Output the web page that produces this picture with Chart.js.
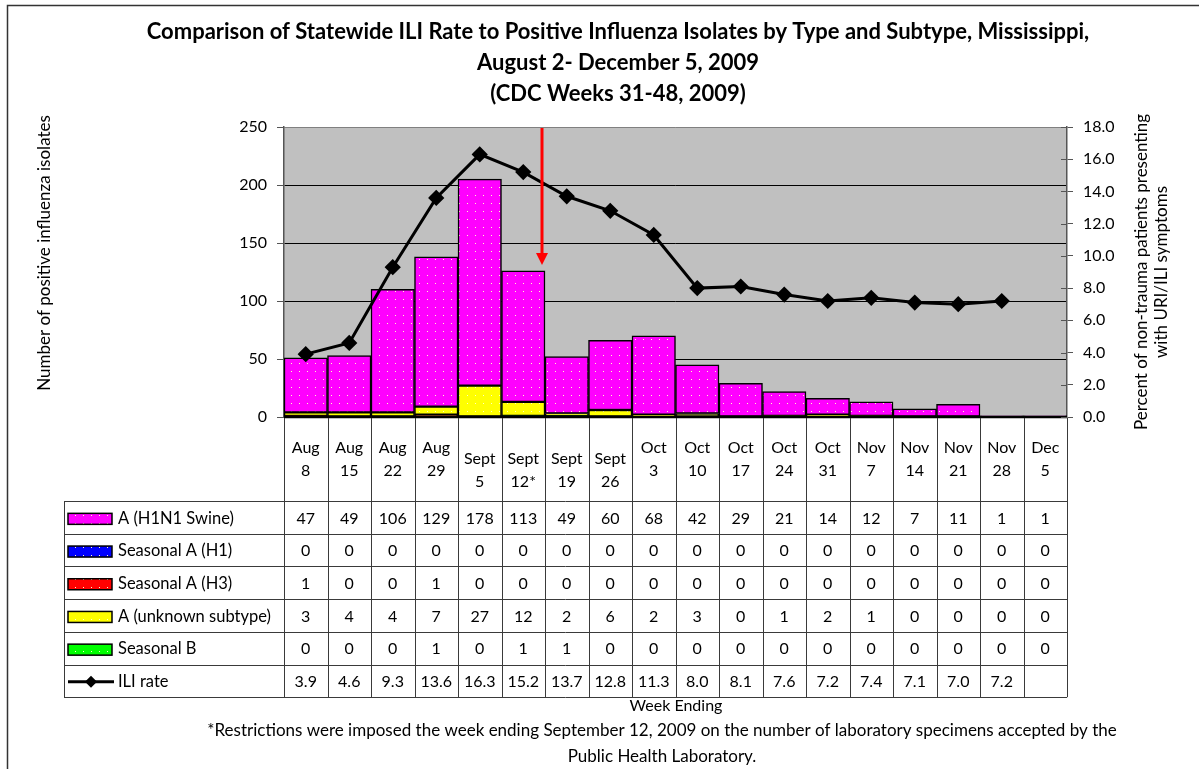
<!DOCTYPE html>
<html>
<head>
<meta charset="utf-8">
<script src="https://cdn.jsdelivr.net/npm/chart.js@4.4.1/dist/chart.umd.min.js"></script>
<style>
  html, body { margin: 0; padding: 0; background: #fff; }
  #wrap { position: relative; width: 1199px; height: 769px; }
</style>
</head>
<body>
<div id="wrap"><canvas id="chart" width="1199" height="769"></canvas></div>
<script>
// week ending labels (Sept ones sit one line lower in the original table)
const weekLabels = [
  ["Aug", "8"], ["Aug", "15"], ["Aug", "22"], ["Aug", "29"],
  ["", "Sept", "5"], ["", "Sept", "12*"], ["", "Sept", "19"], ["", "Sept", "26"],
  ["Oct", "3"], ["Oct", "10"], ["Oct", "17"], ["Oct", "24"], ["Oct", "31"],
  ["Nov", "7"], ["Nov", "14"], ["Nov", "21"], ["Nov", "28"], ["Dec", "5"]
];
const h1n1Swine = [47, 49, 106, 129, 178, 113, 49, 60, 68, 42, 29, 21, 14, 12, 7, 11, 1, 1];
const seasonalH1 = [0, 0, 0, 0, 0, 0, 0, 0, 0, 0, 0, 0, 0, 0, 0, 0, 0, 0];
const seasonalH3 = [1, 0, 0, 1, 0, 0, 0, 0, 0, 0, 0, 0, 0, 0, 0, 0, 0, 0];
const unknownSubtype = [3, 4, 4, 7, 27, 12, 2, 6, 2, 3, 0, 1, 2, 1, 0, 0, 0, 0];
const seasonalB = [0, 0, 0, 1, 0, 1, 1, 0, 0, 0, 0, 0, 0, 0, 0, 0, 0, 0];
const iliRate = [3.9, 4.6, 9.3, 13.6, 16.3, 15.2, 13.7, 12.8, 11.3, 8.0, 8.1, 7.6, 7.2, 7.4, 7.1, 7.0, 7.2, null];

const isolatesMax = 250;
const isolatesStep = 50;
const iliMax = 18;
const iliStep = 2;
const arrowTipValue = 131; // on the isolates axis

const FONT = 'Lato, "Open Sans", sans-serif';

function dotted(color) {
  const c = document.createElement("canvas");
  c.width = 8;
  c.height = 8;
  const g = c.getContext("2d");
  g.fillStyle = color;
  g.fillRect(0, 0, 8, 8);
  g.fillStyle = "#ffffc8";
  g.fillRect(3, 3, 1, 1);
  return g.createPattern(c, "repeat");
}

const fills = {
  swine: dotted("#ff00ff"),
  h1: dotted("#0000ff"),
  h3: dotted("#ff0000"),
  unknown: dotted("#ffff00"),
  b: dotted("#00ff00"),
};

// table rows in the order of the original data table
const tableRows = [
  { label: "A (H1N1 Swine)", values: h1n1Swine, fill: fills.swine },
  { label: "Seasonal A (H1)", values: seasonalH1, fill: fills.h1 },
  { label: "Seasonal A (H3)", values: seasonalH3, fill: fills.h3 },
  { label: "A (unknown subtype)", values: unknownSubtype, fill: fills.unknown },
  { label: "Seasonal B", values: seasonalB, fill: fills.b },
  { label: "ILI rate", values: iliRate, line: true },
];

function barSet(label, data, fill) {
  return {
    type: "bar",
    label,
    data,
    backgroundColor: fill,
    borderColor: "#000",
    borderWidth: 1.5,
    borderSkipped: false,
    categoryPercentage: 1,
    barPercentage: 1,
    stack: "isolates",
    yAxisID: "y",
    order: 1,
  };
}

const backdrop = {
  id: "backdrop",
  beforeDraw(chart) {
    const { ctx, chartArea: a } = chart;
    ctx.save();
    ctx.fillStyle = "#fff";
    ctx.fillRect(0, 0, chart.width, chart.height);
    ctx.fillStyle = "#c0c0c0";
    ctx.fillRect(a.left, a.top, a.width, a.height);
    ctx.restore();
  },
};

const extras = {
  id: "extras",
  afterDraw(chart) {
    const { ctx, chartArea: a } = chart;
    const xs = chart.scales.x;
    const ys = chart.scales.y;
    const yr = chart.scales.y1;
    const n = weekLabels.length;
    const colW = a.width / n;

    ctx.save();

    // baseline
    ctx.strokeStyle = "#000";
    ctx.lineWidth = 2.5;
    ctx.beginPath();
    ctx.moveTo(a.left, a.bottom);
    ctx.lineTo(a.right, a.bottom);
    ctx.stroke();

    // right axis ticks cross the axis line
    ctx.strokeStyle = "#555";
    ctx.lineWidth = 1;
    yr.ticks.forEach((t) => {
      const y = Math.round(yr.getPixelForValue(t.value)) + 0.5;
      ctx.beginPath();
      ctx.moveTo(a.right - 6, y);
      ctx.lineTo(a.right, y);
      ctx.stroke();
    });

    // red arrow at the restriction week
    const ax = (xs.getPixelForValue(5) + xs.getPixelForValue(6)) / 2 - 3;
    const tip = ys.getPixelForValue(arrowTipValue);
    ctx.strokeStyle = "#ff0000";
    ctx.fillStyle = "#ff0000";
    ctx.lineWidth = 3;
    ctx.beginPath();
    ctx.moveTo(ax, a.top + 1);
    ctx.lineTo(ax, tip - 10);
    ctx.stroke();
    ctx.beginPath();
    ctx.moveTo(ax - 6, tip - 12);
    ctx.lineTo(ax + 6, tip - 12);
    ctx.lineTo(ax, tip);
    ctx.closePath();
    ctx.fill();

    // data table
    const tableLeft = 64;
    const rowTop = 501;
    const rowH = 32.7;
    const tableBottom = rowTop + rowH * tableRows.length;
    ctx.strokeStyle = "#3a3a3a";
    ctx.lineWidth = 1;
    for (let i = 0; i <= n; i++) {
      const x = Math.round(a.left + i * colW) + 0.5;
      ctx.beginPath();
      ctx.moveTo(x, a.bottom + 1);
      ctx.lineTo(x, tableBottom);
      ctx.stroke();
    }
    for (let r = 0; r <= tableRows.length; r++) {
      const y = Math.round(rowTop + r * rowH) + 0.5;
      ctx.beginPath();
      ctx.moveTo(tableLeft, y);
      ctx.lineTo(a.right, y);
      ctx.stroke();
    }
    ctx.beginPath();
    ctx.moveTo(tableLeft + 0.5, rowTop);
    ctx.lineTo(tableLeft + 0.5, Math.round(tableBottom) + 1);
    ctx.stroke();

    ctx.fillStyle = "#000";
    ctx.font = "16px " + FONT;
    ctx.textAlign = "center";
    ctx.textBaseline = "middle";
    const headMid = (a.bottom + rowTop) / 2;
    weekLabels.forEach((lines, i) => {
      const cx = xs.getPixelForValue(i);
      const lh = 23;
      const y0 = headMid - ((lines.length - 1) * lh) / 2;
      lines.forEach((t, k) => ctx.fillText(t, cx, y0 + k * lh));
    });

    tableRows.forEach((row, r) => {
      const cy = rowTop + r * rowH + rowH / 2 + 1;
      // legend key
      if (row.line) {
        ctx.strokeStyle = "#000";
        ctx.lineWidth = 3;
        ctx.beginPath();
        ctx.moveTo(68, cy);
        ctx.lineTo(114, cy);
        ctx.stroke();
        ctx.fillStyle = "#000";
        ctx.beginPath();
        ctx.moveTo(91, cy - 6);
        ctx.lineTo(97, cy);
        ctx.lineTo(91, cy + 6);
        ctx.lineTo(85, cy);
        ctx.closePath();
        ctx.fill();
      } else {
        ctx.fillStyle = row.fill;
        ctx.fillRect(68, cy - 5, 44, 11);
        ctx.strokeStyle = "#000";
        ctx.lineWidth = 1.5;
        ctx.strokeRect(68, cy - 5, 44, 11);
      }
      ctx.fillStyle = "#000";
      ctx.textAlign = "left";
      ctx.font = "16.5px " + FONT;
      ctx.fillText(row.label, 118, cy);
      ctx.font = "16px " + FONT;
      ctx.textAlign = "center";
      row.values.forEach((v, i) => {
        if (v === null) return;
        const txt = row.line ? v.toFixed(1) : String(v);
        ctx.fillText(txt, xs.getPixelForValue(i), cy);
      });
    });

    ctx.fillText("Week Ending", 676, 706);

    // footnote
    ctx.font = "17px " + FONT;
    ctx.fillText("*Restrictions were imposed the week ending September 12, 2009 on the number of laboratory specimens accepted by the", 662, 731);
    ctx.fillText("Public Health Laboratory.", 662, 757);

    // axis titles
    ctx.save();
    ctx.translate(45, 253);
    ctx.rotate(-Math.PI / 2);
    ctx.fillText("Number of positive influenza isolates", 0, 0);
    ctx.restore();
    ctx.save();
    ctx.translate(1152, a.top + a.height / 2);
    ctx.rotate(-Math.PI / 2);
    ctx.fillText("Percent of non-trauma patients presenting", 0, -10);
    ctx.fillText("with URI/ILI symptoms", 0, 10);
    ctx.restore();

    // title
    ctx.font = "bold 22px " + FONT;
    ctx.fillText("Comparison of Statewide ILI Rate to Positive Influenza Isolates by Type and Subtype, Mississippi,", 618, 32);
    ctx.fillText("August 2- December 5, 2009", 618, 63);
    ctx.fillText("(CDC Weeks 31-48, 2009)", 618, 94);

    // frame (top and left edges only are inside the picture)
    ctx.strokeStyle = "#333";
    ctx.lineWidth = 1.5;
    ctx.beginPath();
    ctx.moveTo(7.5, 800);
    ctx.lineTo(7.5, 5.5);
    ctx.lineTo(1250, 5.5);
    ctx.stroke();

    ctx.restore();
  },
};

new Chart(document.getElementById("chart"), {
  data: {
    labels: weekLabels,
    datasets: [
      {
        type: "line",
        label: "ILI rate",
        data: iliRate,
        yAxisID: "y1",
        borderColor: "#000",
        borderWidth: 3,
        pointStyle: "rectRot",
        pointRadius: 6,
        pointBackgroundColor: "#000",
        pointBorderColor: "#000",
        tension: 0,
        spanGaps: false,
        order: 0,
      },
      barSet("Seasonal B", seasonalB, fills.b),
      barSet("Seasonal A (H3)", seasonalH3, fills.h3),
      barSet("Seasonal A (H1)", seasonalH1, fills.h1),
      barSet("A (unknown subtype)", unknownSubtype, fills.unknown),
      barSet("A (H1N1 Swine)", h1n1Swine, fills.swine),
    ],
  },
  options: {
    responsive: false,
    animation: false,
    devicePixelRatio: 1,
    layout: { padding: { left: 0, right: 0, top: 127, bottom: 352 } },
    plugins: { legend: { display: false }, tooltip: { enabled: false } },
    scales: {
      x: { display: false, stacked: true, offset: true },
      y: {
        stacked: true,
        min: 0,
        max: isolatesMax,
        position: "left",
        afterFit: (s) => { s.width = 284; },
        ticks: { stepSize: isolatesStep, color: "#000", font: { family: FONT, size: 16 }, padding: 10 },
        grid: {
          color: (c) => (c.tick && c.tick.value === isolatesMax ? "#808080" : "#000"),
          lineWidth: 1,
          tickLength: 7,
          tickColor: "#555",
        },
        border: { color: "#555", width: 1.5 },
      },
      y1: {
        min: 0,
        max: iliMax,
        position: "right",
        afterFit: (s) => { s.width = 132; },
        ticks: {
          stepSize: iliStep,
          color: "#000",
          font: { family: FONT, size: 16 },
          padding: 10,
          callback: (v) => Number(v).toFixed(1),
        },
        grid: { drawOnChartArea: false, tickLength: 6, tickColor: "#555" },
        border: { color: "#555", width: 1.5 },
      },
    },
  },
  plugins: [backdrop, extras],
});
</script>
</body>
</html>
